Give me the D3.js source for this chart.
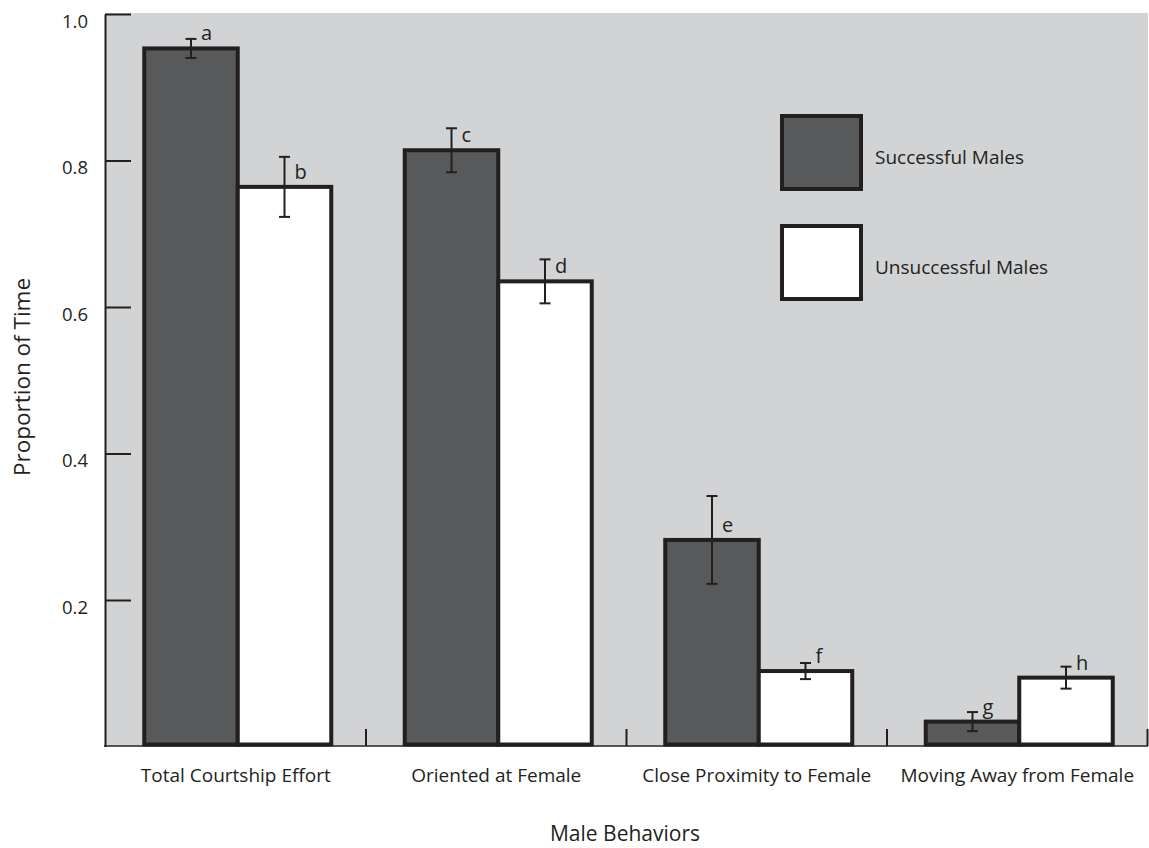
<!DOCTYPE html>
<html>
<head>
<meta charset="utf-8">
<script src="https://cdn.jsdelivr.net/npm/d3@7"></script>
<style>
  html, body { margin: 0; padding: 0; background: #fff; }
  svg { display: block; font-family: "Open Sans", sans-serif; }
</style>
</head>
<body>
<div id="chart"></div>
<script>
// Proportion of time spent in each behaviour, successful vs unsuccessful males.

const categories = ["Total Courtship Effort", "Oriented at Female", "Close Proximity to Female", "Moving Away from Female"];
const groups = ["Successful Males", "Unsuccessful Males"];
const successful = [0.953, 0.814, 0.282, 0.034];
const successfulErr = [0.013, 0.030, 0.060, 0.013];
const unsuccessful = [0.764, 0.635, 0.103, 0.094];
const unsuccessfulErr = [0.041, 0.030, 0.011, 0.015];
const successfulLetters = ["a", "c", "e", "g"];
const unsuccessfulLetters = ["b", "d", "f", "h"];
const yTicks = [0.2, 0.4, 0.6, 0.8, 1.0];

const W = 1149, H = 848;
const ink = "#231f20", dark = "#58595b", bg = "#d1d3d4";
const fills = { "Successful Males": dark, "Unsuccessful Males": "#ffffff" };

const svg = d3.select("#chart").append("svg").attr("width", W).attr("height", H);

const y = d3.scaleLinear().domain([0, 1]).range([746.5, 14]);
const x0 = d3.scaleBand().domain(categories).range([105.5, 1147.5]);
const x1 = d3.scaleBand().domain(groups).range([0, x0.bandwidth()]).paddingOuter(0.393);

const rows = [];
categories.forEach((c, i) => {
  rows.push({ c, g: groups[0], v: successful[i], e: successfulErr[i], l: successfulLetters[i] });
  rows.push({ c, g: groups[1], v: unsuccessful[i], e: unsuccessfulErr[i], l: unsuccessfulLetters[i] });
});

// plot background
svg.append("rect")
  .attr("x", 105).attr("y", y(1) - 1)
  .attr("width", 1148 - 105).attr("height", y(0) - y(1))
  .attr("fill", bg);

// bars
const cx = d => x0(d.c) + 2 + x1(d.g) + x1.bandwidth() / 2;
svg.append("g").selectAll("rect").data(rows).join("rect")
  .attr("x", d => x0(d.c) + 2 + x1(d.g))
  .attr("y", d => y(d.v))
  .attr("width", x1.bandwidth())
  .attr("height", d => y(0) - 2 - y(d.v))
  .attr("fill", d => fills[d.g])
  .attr("stroke", ink).attr("stroke-width", 4);

// error bars
const eb = svg.append("g").attr("stroke", ink).attr("stroke-width", 2);
eb.selectAll("line.v").data(rows).join("line").attr("class", "v")
  .attr("x1", cx).attr("x2", cx)
  .attr("y1", d => y(d.v + d.e)).attr("y2", d => y(d.v - d.e));
eb.selectAll("line.t").data(rows).join("line").attr("class", "t")
  .attr("x1", d => cx(d) - 5.5).attr("x2", d => cx(d) + 5.5)
  .attr("y1", d => y(d.v + d.e)).attr("y2", d => y(d.v + d.e));
eb.selectAll("line.b").data(rows).join("line").attr("class", "b")
  .attr("x1", d => cx(d) - 5.5).attr("x2", d => cx(d) + 5.5)
  .attr("y1", d => y(d.v - d.e)).attr("y2", d => y(d.v - d.e));

// significance letters
svg.append("g").selectAll("text").data(rows).join("text")
  .attr("x", d => cx(d) + 10)
  .attr("y", d => y(d.v) - 8)
  .attr("font-size", 20).attr("fill", ink)
  .text(d => d.l);

// y axis
const gY = svg.append("g").attr("transform", "translate(105,0)")
  .call(d3.axisLeft(y).tickValues(yTicks).tickFormat(d3.format(".1f")).tickSize(-26).tickSizeOuter(0).tickPadding(17));
gY.select(".domain").attr("stroke", ink).attr("stroke-width", 2);
gY.selectAll(".tick line").attr("stroke", ink).attr("stroke-width", 2);
gY.selectAll(".tick text").attr("font-size", 18.5).attr("font-family", "Open Sans").attr("fill", ink).attr("dy", 13);

// x axis baseline + boundary ticks
svg.append("line").attr("x1", 104).attr("x2", 1148).attr("y1", 746).attr("y2", 746)
  .attr("stroke", ink).attr("stroke-width", 1.5);
svg.append("g").selectAll("line").data(categories).join("line")
  .attr("x1", d => x0(d) + x0.bandwidth()).attr("x2", d => x0(d) + x0.bandwidth())
  .attr("y1", 729).attr("y2", 746)
  .attr("stroke", ink).attr("stroke-width", 2);

const gX = svg.append("g").attr("transform", "translate(0,746)")
  .call(d3.axisBottom(x0).tickSize(0).tickPadding(0));
gX.select(".domain").remove();
gX.selectAll(".tick text").attr("font-size", 19).attr("font-family", "Open Sans")
  .attr("fill", ink).attr("dy", 0).attr("y", 36);

// axis titles
svg.append("text").attr("x", 625).attr("y", 841).attr("text-anchor", "middle")
  .attr("font-size", 21).attr("fill", ink).text("Male Behaviors");
svg.append("text").attr("transform", "translate(30,377) rotate(-90)").attr("text-anchor", "middle")
  .attr("font-size", 22.5).attr("fill", ink).text("Proportion of Time");

// legend
const lg = svg.append("g").selectAll("g").data(groups).join("g")
  .attr("transform", (d, i) => `translate(782,${116 + i * 110})`);
lg.append("rect").attr("width", 79).attr("height", 73)
  .attr("fill", d => fills[d]).attr("stroke", ink).attr("stroke-width", 4);
lg.append("text").attr("x", 93).attr("y", 47.5)
  .attr("font-size", 19).attr("fill", ink).text(d => d);
</script>
</body>
</html>
